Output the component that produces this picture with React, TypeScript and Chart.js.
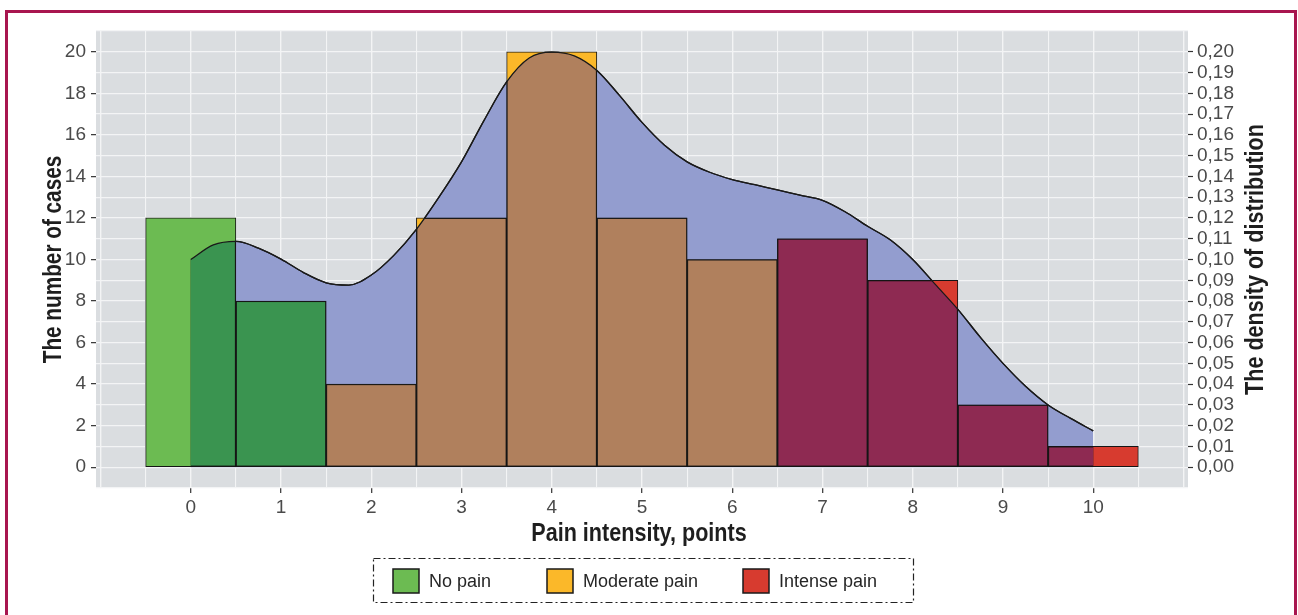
import React, { useEffect, useRef } from 'react';
import { Chart, registerables } from 'chart.js';

Chart.register(...registerables);

// ---------- data ----------
const painScores = [0, 1, 2, 3, 4, 5, 6, 7, 8, 9, 10];
const caseCounts = [12, 8, 4, 12, 20, 12, 10, 11, 9, 3, 1];
const painGroups = [
  'No pain', 'No pain',
  'Moderate pain', 'Moderate pain', 'Moderate pain', 'Moderate pain', 'Moderate pain',
  'Intense pain', 'Intense pain', 'Intense pain', 'Intense pain',
];

const densityX = [
  0, 0.25, 0.5, 0.75, 1, 1.25, 1.5, 1.75, 2, 2.25, 2.5, 2.75, 3, 3.25, 3.5, 3.75, 4,
  4.25, 4.5, 4.75, 5, 5.25, 5.5, 5.75, 6, 6.25, 6.5, 6.75, 7, 7.25, 7.5, 7.75, 8,
  8.25, 8.5, 8.75, 9, 9.25, 9.5, 9.75, 10,
];
const densityY = [
  0.100, 0.107, 0.1087, 0.1055, 0.1002, 0.0937, 0.0888, 0.0877, 0.0925, 0.102, 0.1145,
  0.130, 0.147, 0.167, 0.1855, 0.197, 0.1998, 0.198, 0.191, 0.179, 0.166, 0.155, 0.147,
  0.142, 0.1385, 0.136, 0.1335, 0.131, 0.1285, 0.123, 0.116, 0.1095, 0.100, 0.088,
  0.076, 0.0625, 0.050, 0.039, 0.030, 0.0235, 0.0175,
];

const xTickValues = [0, 1, 2, 3, 4, 5, 6, 7, 8, 9, 10];
const xTickLabels = ['0', '1', '2', '3', '4', '5', '6', '7', '8', '9', '10'];
const leftTickValues = [0, 2, 4, 6, 8, 10, 12, 14, 16, 18, 20];
const leftTickLabels = ['0', '2', '4', '6', '8', '10', '12', '14', '16', '18', '20'];
const rightTickValues = [
  0, 0.01, 0.02, 0.03, 0.04, 0.05, 0.06, 0.07, 0.08, 0.09, 0.1,
  0.11, 0.12, 0.13, 0.14, 0.15, 0.16, 0.17, 0.18, 0.19, 0.2,
];
const rightTickLabels = [
  '0,00', '0,01', '0,02', '0,03', '0,04', '0,05', '0,06', '0,07', '0,08', '0,09', '0,10',
  '0,11', '0,12', '0,13', '0,14', '0,15', '0,16', '0,17', '0,18', '0,19', '0,20',
];
const legendLabels = ['No pain', 'Moderate pain', 'Intense pain'];
const xTitle = 'Pain intensity, points';
const yTitle = 'The number of cases';
const y2Title = 'The density of distribution';

// ---------- styles ----------
const lightColors: Record<string, string> = {
  'No pain': '#6cbb52',
  'Moderate pain': '#fbb829',
  'Intense pain': '#d73b2f',
};
const darkColors: Record<string, string> = {
  'No pain': '#3a9450',
  'Moderate pain': '#b0805d',
  'Intense pain': '#8e2a52',
};
const DENSITY_FILL = '#939dcf';
const PANEL_BG = '#dadde0';
const GRID = '#f3f4f5';
const TICK_COLOR = '#333333';
const LABEL_COLOR = '#4a4a4a';
const TITLE_COLOR = '#1e1e1e';
const TICK_FONT = { family: "'Liberation Sans', Arial, sans-serif", size: 19 };
const TITLE_FAMILY = "'Liberation Sans', Arial, sans-serif";
const TITLE_SQUEEZE = 0.83;
const BAR_BORDER = 1;

const W = 1298;
const H = 615;

const near = (a: number, b: number) => Math.abs(a - b) < 1e-6;
const steps = (from: number, to: number, step: number) => {
  const out: { value: number }[] = [];
  const n = Math.round((to - from) / step);
  for (let i = 0; i <= n; i++) out.push({ value: Math.round((from + i * step) * 1000) / 1000 });
  return out;
};

const plotBackground = {
  id: 'plotBackground',
  beforeDraw(chart: any) {
    const { ctx, chartArea } = chart;
    ctx.save();
    ctx.fillStyle = PANEL_BG;
    ctx.fillRect(chartArea.left, chartArea.top, chartArea.right - chartArea.left, chartArea.bottom - chartArea.top);
    ctx.restore();
  },
};

const densityOverlay = {
  id: 'densityOverlay',
  afterDatasetsDraw(chart: any) {
    const ctx = chart.ctx;
    const lineMeta = chart.getDatasetMeta(0);
    const barMeta = chart.getDatasetMeta(1);
    const line = lineMeta.dataset;
    const pts = lineMeta.data;
    if (!line || !pts.length) return;
    line.updateControlPoints(chart.chartArea, 'x');
    const base = chart.scales.y2.getPixelForValue(0);

    ctx.save();
    ctx.beginPath();
    line.path(ctx);
    ctx.lineTo(pts[pts.length - 1].x, base);
    ctx.lineTo(pts[0].x, base);
    ctx.closePath();
    ctx.clip();
    barMeta.data.forEach((bar: any, i: number) => {
      const { x, y, base: b, width } = bar.getProps(['x', 'y', 'base', 'width'], true);
      const left = x - width / 2;
      const h = b - y;
      ctx.fillStyle = '#151515';
      ctx.fillRect(left, y, width, h);
      ctx.fillStyle = darkColors[painGroups[i]];
      ctx.fillRect(left + BAR_BORDER, y + BAR_BORDER, width - 2 * BAR_BORDER, h - 2 * BAR_BORDER);
    });
    ctx.restore();

    ctx.save();
    ctx.beginPath();
    line.path(ctx);
    ctx.strokeStyle = '#1a1a1a';
    ctx.lineWidth = 1.3;
    ctx.stroke();
    ctx.restore();
  },
};

const drawTitle = (ctx: any, text: string, x: number, y: number, rot: number, size: number) => {
  ctx.save();
  ctx.translate(x, y);
  ctx.rotate(rot);
  ctx.scale(TITLE_SQUEEZE, 1);
  ctx.textAlign = 'center';
  ctx.textBaseline = 'alphabetic';
  ctx.fillStyle = TITLE_COLOR;
  ctx.font = `bold ${size}px ${TITLE_FAMILY}`;
  ctx.fillText(text, 0, 0);
  ctx.restore();
};

const extras = {
  id: 'extras',
  afterDraw(chart: any) {
    const { ctx, chartArea } = chart;
    const midY = (chartArea.top + chartArea.bottom) / 2;
    const midX = (chartArea.left + chartArea.right) / 2;
    drawTitle(ctx, yTitle, 61, midY, -Math.PI / 2, 25);
    drawTitle(ctx, y2Title, 1263, midY, -Math.PI / 2, 26);
    drawTitle(ctx, xTitle, midX - 3, 541, 0, 26);

    // legend
    ctx.save();
    ctx.strokeStyle = '#222222';
    ctx.lineWidth = 1.2;
    ctx.setLineDash([7, 3, 2, 3]);
    ctx.strokeRect(373.5, 558.5, 540, 44);
    ctx.setLineDash([]);
    const swatchX = [393, 547, 743];
    ctx.font = "18px 'Liberation Sans', Arial, sans-serif";
    ctx.textBaseline = 'middle';
    ctx.textAlign = 'left';
    legendLabels.forEach((label, i) => {
      const sx = swatchX[i];
      ctx.fillStyle = lightColors[label];
      ctx.fillRect(sx, 569, 26, 24);
      ctx.strokeStyle = '#1a1a1a';
      ctx.lineWidth = 1.5;
      ctx.strokeRect(sx, 569, 26, 24);
      ctx.fillStyle = '#262626';
      ctx.fillText(label, sx + 36, 582);
    });
    ctx.restore();
  },
};

export default function App() {
  const canvasRef = useRef<HTMLCanvasElement | null>(null);

  useEffect(() => {
    const canvas = canvasRef.current;
    if (!canvas) return;

    const chart = new Chart(canvas, {
      type: 'line',
      data: {
        datasets: [
          {
            type: 'line',
            label: 'Density',
            data: densityX.map((x, i) => ({ x, y: densityY[i] })),
            xAxisID: 'x',
            yAxisID: 'y2',
            borderColor: '#1a1a1a',
            borderWidth: 1.3,
            backgroundColor: DENSITY_FILL,
            fill: 'origin',
            pointRadius: 0,
            cubicInterpolationMode: 'monotone',
            order: 2,
          } as any,
          {
            type: 'bar',
            label: 'Cases',
            data: painScores.map((x, i) => ({ x, y: caseCounts[i] })),
            xAxisID: 'x',
            yAxisID: 'y',
            backgroundColor: painGroups.map((g) => lightColors[g]),
            borderColor: '#151515',
            borderWidth: BAR_BORDER,
            borderSkipped: false,
            barPercentage: 1,
            categoryPercentage: 1,
            order: 1,
          } as any,
        ],
      },
      options: {
        responsive: false,
        animation: false,
        devicePixelRatio: 1,
        layout: { padding: { top: 31, left: 0, right: 0, bottom: 0 } },
        plugins: {
          legend: { display: false },
          tooltip: { enabled: false },
        },
        events: [],
        scales: {
          x: {
            type: 'linear',
            position: 'bottom',
            min: -1.05,
            max: 11.05,
            offset: false,
            afterBuildTicks: (s: any) => { s.ticks = steps(-1, 11, 1); },
            afterFit: (s: any) => { s.height = H - 488; },
            grid: {
              offset: false,
              color: GRID,
              lineWidth: 1.4,
              drawTicks: true,
              tickLength: 5,
              tickWidth: 1.2,
              tickColor: (c: any) => (xTickValues.some((v) => near(v, c.tick?.value)) ? TICK_COLOR : 'rgba(0,0,0,0)'),
            },
            border: { display: false },
            ticks: {
              autoSkip: false,
              maxRotation: 0,
              padding: 3,
              color: LABEL_COLOR,
              font: TICK_FONT,
              callback: (v: any) => {
                const i = xTickValues.findIndex((t) => near(t, Number(v)));
                return i >= 0 ? xTickLabels[i] : '';
              },
            },
          },
          xm: {
            type: 'linear',
            position: 'bottom',
            min: -1.05,
            max: 11.05,
            offset: false,
            afterBuildTicks: (s: any) => { s.ticks = steps(-0.5, 10.5, 1); },
            afterFit: (s: any) => { s.height = 0; },
            grid: { color: GRID, lineWidth: 1.1, drawTicks: false },
            border: { display: false },
            ticks: { display: false },
          },
          y: {
            type: 'linear',
            position: 'left',
            min: -1,
            max: 21,
            afterBuildTicks: (s: any) => { s.ticks = steps(-1, 21, 1); },
            afterFit: (s: any) => { s.width = 96; },
            grid: {
              color: GRID,
              lineWidth: 1.3,
              drawTicks: true,
              tickLength: 5,
              tickWidth: 1.2,
              tickColor: (c: any) => (leftTickValues.some((v) => near(v, c.tick?.value)) ? TICK_COLOR : 'rgba(0,0,0,0)'),
            },
            border: { display: false },
            ticks: {
              autoSkip: false,
              padding: 5,
              color: LABEL_COLOR,
              font: TICK_FONT,
              callback: (v: any) => {
                const i = leftTickValues.findIndex((t) => near(t, Number(v)));
                return i >= 0 ? leftTickLabels[i] : '';
              },
            },
          },
          y2: {
            type: 'linear',
            position: 'right',
            min: -0.01,
            max: 0.21,
            afterBuildTicks: (s: any) => { s.ticks = rightTickValues.map((value) => ({ value })); },
            afterFit: (s: any) => { s.width = W - 1188; },
            grid: {
              drawOnChartArea: false,
              drawTicks: true,
              tickLength: 5,
              tickWidth: 1.2,
              tickColor: TICK_COLOR,
            },
            border: { display: false },
            ticks: {
              autoSkip: false,
              padding: 4,
              color: LABEL_COLOR,
              font: TICK_FONT,
              callback: (v: any) => {
                const i = rightTickValues.findIndex((t) => near(t, Number(v)));
                return i >= 0 ? rightTickLabels[i] : '';
              },
            },
          },
        },
      } as any,
      plugins: [plotBackground, densityOverlay, extras],
    });

    return () => chart.destroy();
  }, []);

  return (
    <div style={{ position: 'fixed', left: 0, top: 0, width: W, height: H, overflow: 'hidden', background: '#ffffff' }}>
      <canvas ref={canvasRef} width={W} height={H} style={{ position: 'absolute', left: 0, top: 0, width: W, height: H }} />
      <div
        style={{
          position: 'absolute',
          left: 5,
          top: 10,
          width: 1292,
          height: 700,
          boxSizing: 'border-box',
          border: '3px solid #a8164f',
          pointerEvents: 'none',
        }}
      />
    </div>
  );
}
